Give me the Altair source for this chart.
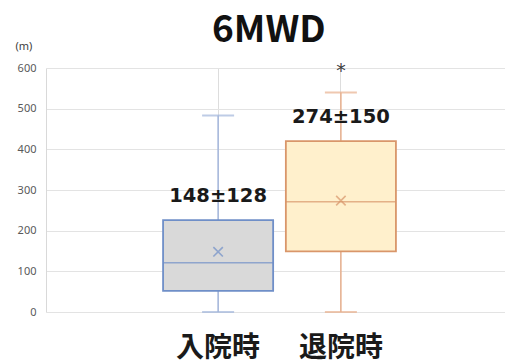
import altair as alt
import pandas as pd

# Six-minute walk distance at admission and at discharge (m)
groups = ["入院時", "退院時"]
whisker_low = [0, 0]
q1 = [52, 149]
median = [121, 271]
q3 = [226, 420]
whisker_high = [483, 540]
mean = [148, 274]
sd = [128, 150]
label_y = [285, 479]
star_y = [None, 592]

box_fill = ["#d9d9d9", "#fff0cc"]
box_line = ["#6f8fc8", "#d9966a"]
whisker_line = ["#a3b6dc", "#e8b08e"]

df = pd.DataFrame({
    "group": groups,
    "lo": whisker_low,
    "q1": q1,
    "med": median,
    "q3": q3,
    "hi": whisker_high,
    "mean": mean,
    "label": [f"{m}±{s}" for m, s in zip(mean, sd)],
    "label_y": label_y,
})
stars = pd.DataFrame({"group": [g for g, s in zip(groups, star_y) if s is not None],
                      "y": [s for s in star_y if s is not None]})

# band layout runs slightly past the right edge of the plot frame
x = alt.X("group:N", sort=groups, title=None,
          scale=alt.Scale(paddingInner=0.1035, paddingOuter=0.9535, range=[0, 467]),
          axis=alt.Axis(labelAngle=0, domain=False, ticks=False, labelPadding=22,
                        labelFont="Noto Sans CJK JP", labelFontWeight="bold",
                        labelFontSize=28, labelColor="#1a1a1a"))
yscale = alt.Scale(domain=[0, 600], nice=False)
y_axis = alt.Axis(values=[0, 100, 200, 300, 400, 500, 600], ticks=False,
                  domain=True, domainColor="#d9d9d9", gridColor="#e3e3e3",
                  labelFontSize=11, labelColor="#595959", labelPadding=10,
                  labelFont="Noto Sans",
                  title="(m)", titleAngle=0, titleX=-31, titleY=-17,
                  titleFontSize=11, titleFontWeight="normal", titleColor="#404040",
                  titleFont="Noto Sans", titleAlign="left")

fill_scale = alt.Scale(domain=groups, range=box_fill)
line_scale = alt.Scale(domain=groups, range=box_line)
wline_scale = alt.Scale(domain=groups, range=whisker_line)

base = alt.Chart(df)

# whiskers and their caps
whisker = base.mark_rule(strokeWidth=1.5).encode(
    x=x,
    y=alt.Y("lo:Q", scale=yscale, axis=y_axis),
    y2="hi:Q",
    color=alt.Color("group:N", scale=wline_scale, legend=None),
)
caps_low = base.mark_tick(size=32, thickness=2).encode(
    x=x, y=alt.Y("lo:Q"),
    color=alt.Color("group:N", scale=wline_scale, legend=None),
)
caps_high = base.mark_tick(size=32, thickness=2).encode(
    x=x, y=alt.Y("hi:Q"),
    color=alt.Color("group:N", scale=wline_scale, legend=None),
)
whiskers = alt.layer(whisker, caps_low, caps_high)

# interquartile box, median line and mean marker
box = base.mark_bar(strokeWidth=1.8).encode(
    x=x,
    y=alt.Y("q1:Q"),
    y2="q3:Q",
    fill=alt.Fill("group:N", scale=fill_scale, legend=None),
    stroke=alt.Stroke("group:N", scale=line_scale, legend=None),
)
med = base.mark_tick(size=110, thickness=1.6).encode(
    x=x, y=alt.Y("med:Q"),
    color=alt.Color("group:N", scale=line_scale, legend=None),
)
mean_mark = base.mark_point(shape="M-1,-1L1,1M-1,1L1,-1", size=90,
                            strokeWidth=1.6, filled=False).encode(
    x=x, y=alt.Y("mean:Q"),
    color=alt.Color("group:N", scale=line_scale, legend=None),
)
boxes = alt.layer(box, med, mean_mark)

labels = base.mark_text(font="DejaVu Sans", fontWeight="bold", fontSize=19.5,
                        color="#1a1a1a", baseline="middle").encode(
    x=x, y=alt.Y("label_y:Q"), text="label:N",
)
star = alt.Chart(stars).mark_text(text="*", fontSize=19, color="#404040",
                                  font="DejaVu Sans", baseline="middle").encode(
    x=alt.X("group:N", sort=groups), y=alt.Y("y:Q"),
)

chart = alt.layer(whiskers, boxes, labels, star).resolve_scale(
    color="independent"
).properties(
    width=459, height=244,
    title=alt.Title("6MWD", font="Noto Sans CJK JP", fontWeight="bold", fontSize=37,
                    color="#111111", anchor="start", frame="group", offset=-10, dx=166),
    padding={"left": 46, "top": 68, "right": 0, "bottom": 51},
    autosize="none",
).configure_view(stroke=None).configure_axis(grid=True)

chart.save("out.html", embed_options={"renderer": "svg", "actions": False})
